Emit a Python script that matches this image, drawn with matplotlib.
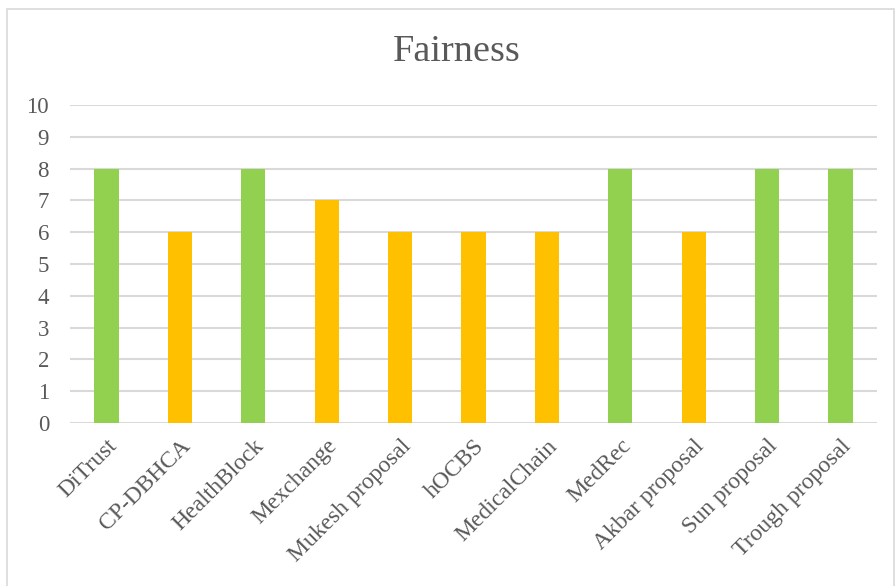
import matplotlib.pyplot as plt
from matplotlib.patches import Rectangle

# Fairness score per proposal
names = ['DiTrust', 'CP-DBHCA', 'HealthBlock', 'Mexchange', 'Mukesh proposal', 'hOCBS',
         'MedicalChain', 'MedRec', 'Akbar proposal', 'Sun proposal', 'Trough proposal']
scores = [8, 6, 8, 7, 6, 6, 6, 8, 6, 8, 8]

green = '#92D050'
orange = '#FFC000'
colors = [green if s == 8 else orange for s in scores]

plt.rcParams['font.family'] = ['Liberation Serif', 'DejaVu Serif']

fig = plt.figure(figsize=(8.96, 5.86), dpi=100)
ax = fig.add_axes([0.078, 0.278, 0.901, 0.543])

x = range(len(names))
ax.bar(x, scores, width=0.33, color=colors, zorder=3)

ax.set_ylim(0, 10)
ax.set_xlim(-0.5, len(names) - 0.5)
ax.set_yticks(range(0, 11))
ax.set_xticks(list(x))
ax.set_xticklabels(names, rotation=45, ha='right', rotation_mode='anchor')
ax.tick_params(axis='x', length=0, labelsize=17, colors='#595959', pad=9)
ax.tick_params(axis='y', length=0, labelsize=16.5, colors='#595959', pad=15)
ax.grid(axis='y', color='#d9d9d9', linewidth=1.5, zorder=0)
for s in ax.spines.values():
    s.set_visible(False)

fig.text(0.51, 0.912, 'Fairness', ha='center', va='center', fontsize=27.5, color='#595959')

# chart frame
fig.patches.append(Rectangle((0.008, -0.05), 0.99, 1.035, transform=fig.transFigure,
                             fill=False, edgecolor='#d9d9d9', linewidth=1.2))

fig.savefig('out.png', dpi=100)
